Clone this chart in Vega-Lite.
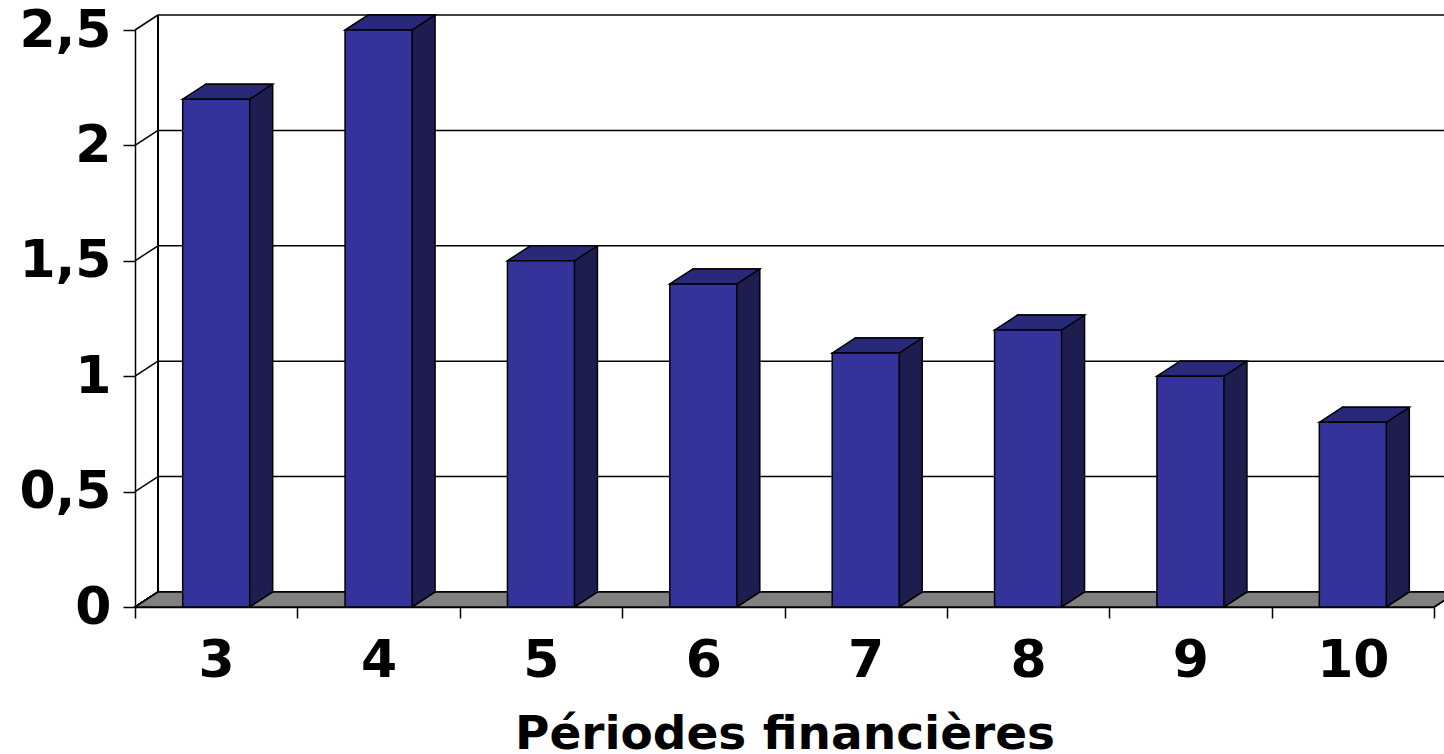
{
  "$schema": "https://vega.github.io/schema/vega-lite/v6.json",
  "width": 1299,
  "height": 577,
  "autosize": {"type": "none"},
  "padding": {"left": 135, "top": 30, "right": 10, "bottom": 147},
  "background": "white",
  "config": {
    "view": {"stroke": null},
    "font": "DejaVu Sans",
    "axis": {"labelColor": "black", "titleColor": "black", "domainColor": "black", "tickColor": "black"}
  },
  "datasets": {
    "bars": [
      {"period": "3", "value": 2.2},
      {"period": "4", "value": 2.5},
      {"period": "5", "value": 1.5},
      {"period": "6", "value": 1.4},
      {"period": "7", "value": 1.1},
      {"period": "8", "value": 1.2},
      {"period": "9", "value": 1.0},
      {"period": "10", "value": 0.8}
    ],
    "ticks": [{"v": 0}, {"v": 0.5}, {"v": 1}, {"v": 1.5}, {"v": 2}, {"v": 2.5}]
  },
  "data": {"name": "bars"},
  "layer": [
    {
      "data": {"name": "ticks"},
      "mark": {"type": "rule", "color": "black", "strokeWidth": 1.5, "xOffset": 23, "x2Offset": 23, "yOffset": -15},
      "encoding": {
        "x": {"value": 0},
        "x2": {"value": "width"},
        "y": {"field": "v", "type": "quantitative", "scale": {"domain": [0, 2.5], "nice": false, "zero": true}}
      }
    },
    {
      "data": {"name": "ticks"},
      "mark": {"type": "rule", "color": "black", "strokeWidth": 1.5, "x2Offset": 23, "y2Offset": -15},
      "encoding": {
        "x": {"value": 0},
        "x2": {"value": 0},
        "y": {"field": "v", "type": "quantitative"},
        "y2": {"field": "v"}
      }
    },
    {
      "mark": {"type": "rule", "color": "black", "strokeWidth": 1.5, "xOffset": 23, "yOffset": -15, "y2Offset": -15},
      "encoding": {
        "x": {"value": 0},
        "y": {"datum": 2.5, "type": "quantitative"},
        "y2": {"datum": 0}
      }
    },
    {
      "mark": {"type": "point", "shape": "M0,0 L1299,0 L1322,-15 L23,-15 Z", "size": 4, "filled": true, "fill": "#808080", "stroke": "black", "strokeWidth": 1.5, "opacity": 1},
      "encoding": {
        "x": {"value": 0},
        "y": {"datum": 0, "type": "quantitative"}
      }
    },
    {
      "mark": {"type": "bar", "width": 67, "fill": "#1D1D4F", "stroke": "black", "strokeWidth": 1.5, "xOffset": 23, "yOffset": -15, "y2Offset": -15},
      "encoding": {
        "x": {"field": "period", "type": "nominal", "sort": null},
        "y": {"field": "value", "type": "quantitative"}
      }
    },
    {
      "mark": {"type": "point", "shape": "M33.5,0.5 L56.5,-15 L56.5,-16.5 L33.5,-16.5 Z", "size": 4, "filled": true, "fill": "#1D1D4F", "strokeWidth": 0, "opacity": 1},
      "encoding": {
        "x": {"field": "period", "type": "nominal", "sort": null},
        "y": {"datum": 0, "type": "quantitative"}
      }
    },
    {
      "mark": {"type": "point", "shape": "M33.5,0 L56.5,-15", "size": 4, "filled": false, "stroke": "black", "strokeWidth": 1.5, "opacity": 1},
      "encoding": {
        "x": {"field": "period", "type": "nominal", "sort": null},
        "y": {"datum": 0, "type": "quantitative"}
      }
    },
    {
      "mark": {"type": "point", "shape": "M-33.5,0 L-10.5,-15 L56.5,-15 L33.5,0 Z", "size": 4, "filled": true, "fill": "#29297A", "stroke": "black", "strokeWidth": 1.5, "opacity": 1},
      "encoding": {
        "x": {"field": "period", "type": "nominal", "sort": null},
        "y": {"field": "value", "type": "quantitative"}
      }
    },
    {
      "mark": {"type": "bar", "width": 67, "fill": "#333399", "stroke": "black", "strokeWidth": 1.5},
      "encoding": {
        "x": {
          "field": "period", "type": "nominal", "sort": null,
          "scale": {"paddingInner": 0, "paddingOuter": 0},
          "axis": {
            "title": "Périodes financières",
            "labelAngle": 0,
            "labelAlign": "center",
            "tickBand": "extent",
            "tickSize": 11,
            "tickWidth": 1.5,
            "domainWidth": 1.5,
            "labelFont": "DejaVu Sans",
            "labelFontWeight": "bold",
            "labelFontSize": 52,
            "labelPadding": 42,
            "titleFont": "DejaVu Sans",
            "titleFontWeight": "bold",
            "titleFontSize": 47,
            "titlePadding": 25,
            "grid": false
          }
        },
        "y": {
          "field": "value", "type": "quantitative",
          "axis": {
            "title": null,
            "values": [0, 0.5, 1, 1.5, 2, 2.5],
            "labelExpr": "replace(toString(datum.value), '.', ',')",
            "tickSize": 12,
            "tickWidth": 1.5,
            "domainWidth": 1.5,
            "labelFont": "DejaVu Sans",
            "labelFontWeight": "bold",
            "labelFontSize": 52,
            "labelPadding": 12,
            "grid": false
          }
        }
      }
    }
  ]
}
